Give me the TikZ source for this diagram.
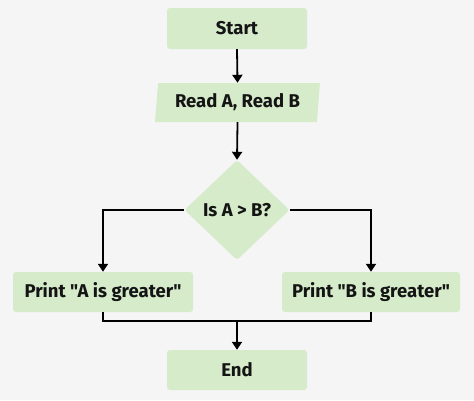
\documentclass[tikz,border=0pt]{standalone}
\usepackage{fontspec}
\setmainfont{Fira Sans}[Ligatures=TeXOff]
\usetikzlibrary{shapes.geometric,arrows.meta}
\definecolor{bg}{HTML}{F5F5F5}
\definecolor{boxfill}{HTML}{D5EBCA}
\definecolor{ink}{HTML}{141414}
\tikzset{
  lbl/.style={text=ink, font=\bfseries\fontsize{18.5}{20}\selectfont, inner sep=0pt},
  box/.style={lbl, rectangle, rounded corners=3pt, fill=boxfill},
  iobox/.style={lbl, trapezium, trapezium left angle=82, trapezium right angle=98, trapezium stretches=true, fill=boxfill},
  decbox/.style={diamond, rounded corners=3pt, fill=boxfill, inner sep=0pt},
  conn/.style={draw=black, line width=1.8pt},
  arr/.style={conn, -{Triangle[length=8pt,width=10pt]}}
}
\begin{document}
\begin{tikzpicture}[x=1pt,y=-1pt]
\fill[bg] (0,0) rectangle (474,400);
\useasboundingbox (0,0) rectangle (474,400);
\node[box, minimum width=140pt, minimum height=41pt] (start) at (237,28.5) {Start};
\node[iobox, minimum width=165pt, minimum height=39pt] (read) at (237.5,102.5) {Read A, Read B};
\node[decbox, minimum width=105pt, minimum height=100pt] (dec) at (237,210) {};
\node[lbl] (dectext) at (dec.center) {Is A > B?};
\node[box, minimum width=180pt, minimum height=40pt] (pa) at (103,292) {Print "A is greater"};
\node[box, minimum width=178pt, minimum height=40pt] (pb) at (371,292) {Print "B is greater"};
\node[box, minimum width=140pt, minimum height=40pt] (end) at (237,370) {End};
\coordinate (merge) at (237,321);
\draw[arr] (start.south) -- (read.north);
\draw[arr] (read.south) -- (dec.north);
\draw[arr] (dec.west) -| (pa.north);
\draw[arr] (dec.east) -| (pb.north);
\draw[conn] (pa.south) |- (merge) -| (pb.south);
\draw[arr] (merge) -- (end.north);
\end{tikzpicture}
\end{document}
